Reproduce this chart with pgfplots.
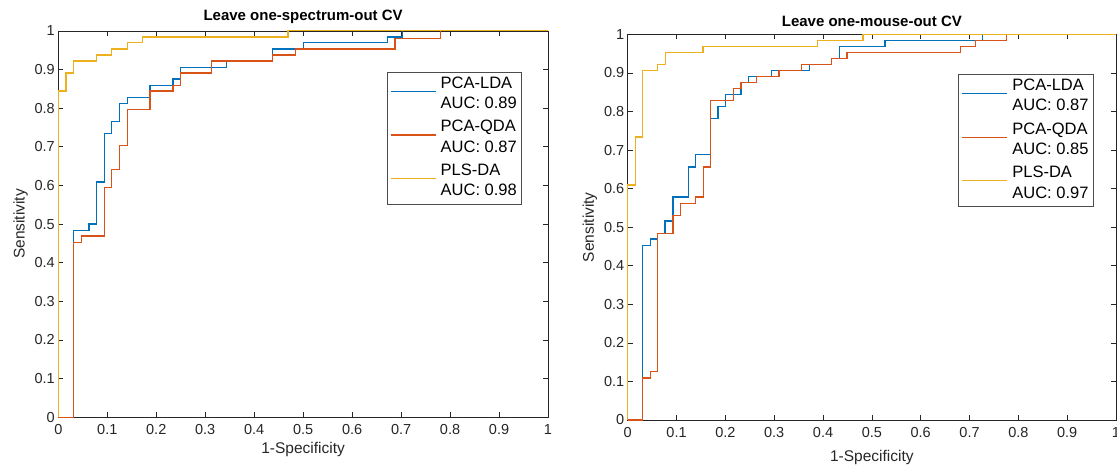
\documentclass[border=0pt]{standalone}
\usepackage{pgfplots}
\pgfplotsset{compat=1.18}
\usepackage{fontspec}
\setmainfont{Liberation Sans}

% MATLAB default line colours
\definecolor{mblue}{rgb}{0,0.447,0.741}
\definecolor{morange}{rgb}{0.85,0.325,0.098}
\definecolor{myellow}{rgb}{0.929,0.694,0.125}
\definecolor{axgray}{gray}{0.15}

% two-line legend text: method name over its AUC
\newcommand{\entry}[2]{\begin{tabular}{@{}l@{}}#1\\#2\end{tabular}}

\pgfplotsset{
  rocaxis/.style={
    scale only axis,
    xmin=0, xmax=1, ymin=0, ymax=1,
    clip=false,
    xtick={0,0.1,0.2,0.3,0.4,0.5,0.6,0.7,0.8,0.9,1},
    xticklabels={0,0.1,0.2,0.3,0.4,0.5,0.6,0.7,0.8,0.9,1},
    ytick={0,0.1,0.2,0.3,0.4,0.5,0.6,0.7,0.8,0.9,1},
    yticklabels={0,0.1,0.2,0.3,0.4,0.5,0.6,0.7,0.8,0.9,1},
    tick align=inside,
    major tick length=5pt,
    axis line style={draw=axgray, line width=0.6pt},
    every tick/.style={draw=axgray, line width=0.6pt},
    tick label style={font=\fontsize{14.5}{17}\selectfont, text=axgray},
    xticklabel style={yshift=-4pt},
    label style={font=\fontsize{15.5}{18}\selectfont, text=axgray},
    title style={font=\fontsize{15}{18}\selectfont\bfseries, yshift=-2pt},
    xlabel={1-Specificity},
    ylabel={Sensitivity},
    legend cell align=left,
    legend style={
      anchor=north west,
      draw=black!70, line width=0.6pt,
      font=\fontsize{16.5}{20.3}\selectfont,
      nodes={text depth=, inner sep=1.5pt},
      inner xsep=3pt, inner ysep=0.5pt,
      row sep=0pt,
    },
    legend image code/.code={%
      \draw[#1, line width=1.25pt] (0pt,0.3em) -- (45pt,0.3em);
      \path (48pt,0.3em);},
    every axis plot/.append style={line width=1.25pt, line join=miter},
  }
}

\begin{document}
\begin{tikzpicture}[x=1pt,y=1pt]
\useasboundingbox (0,0) rectangle (1117,467);

% ---------------- Leave one-spectrum-out ----------------
\begin{axis}[rocaxis,
  at={(58.3pt,49.7pt)}, anchor=south west,
  width=489.7pt, height=386.5pt,
  title={Leave one-spectrum-out CV},
  legend style={at={(0.6706,0.894)}},
]
\addplot[mblue] coordinates {
 (0,0) (0.031,0) (0.031,0.484) (0.0625,0.484) (0.0625,0.5) (0.078,0.5)
 (0.078,0.609) (0.094,0.609) (0.094,0.734) (0.109,0.734) (0.109,0.766)
 (0.125,0.766) (0.125,0.8125) (0.141,0.8125) (0.141,0.828) (0.1875,0.828)
 (0.1875,0.859) (0.234,0.859) (0.234,0.875) (0.25,0.875) (0.25,0.906)
 (0.344,0.906) (0.344,0.922) (0.4375,0.922) (0.4375,0.953) (0.5,0.953)
 (0.5,0.969) (0.672,0.969) (0.672,0.984) (0.703,0.984) (0.703,1) (1,1)};
\addlegendentry{\entry{PCA-LDA}{AUC: 0.89}}
\addplot[morange] coordinates {
 (0,0) (0.031,0) (0.031,0.453) (0.047,0.453) (0.047,0.469) (0.094,0.469)
 (0.094,0.594) (0.109,0.594) (0.109,0.641) (0.125,0.641) (0.125,0.703)
 (0.141,0.703) (0.141,0.797) (0.1875,0.797) (0.1875,0.844) (0.234,0.844)
 (0.234,0.859) (0.25,0.859) (0.25,0.891) (0.3125,0.891) (0.3125,0.922)
 (0.4375,0.922) (0.4375,0.9375) (0.484,0.9375) (0.484,0.953) (0.6875,0.953)
 (0.6875,0.98) (0.781,0.98) (0.781,1) (1,1)};
\addlegendentry{\entry{PCA-QDA}{AUC: 0.87}}
\addplot[myellow] coordinates {
 (0,0) (0,0.844) (0.0156,0.844) (0.0156,0.891) (0.031,0.891) (0.031,0.922)
 (0.078,0.922) (0.078,0.9375) (0.109,0.9375) (0.109,0.953) (0.141,0.953)
 (0.141,0.969) (0.172,0.969) (0.172,0.984) (0.469,0.984) (0.469,1) (1,1)};
\addlegendentry{\entry{PLS-DA}{AUC: 0.98}}
\end{axis}

% ---------------- Leave one-mouse-out ----------------
\begin{axis}[rocaxis,
  at={(627.7pt,47pt)}, anchor=south west,
  width=488.3pt, height=385.7pt,
  title={Leave one-mouse-out CV},
  xlabel style={yshift=-6pt},
  legend style={at={(0.677,0.897)}},
]
\addplot[mblue] coordinates {
 (0,0) (0.0304,0) (0.0304,0.453) (0.046,0.453) (0.046,0.469) (0.0616,0.469)
 (0.0616,0.484) (0.0765,0.484) (0.0765,0.516) (0.0927,0.516) (0.0927,0.578)
 (0.124,0.578) (0.124,0.656) (0.139,0.656) (0.139,0.6875) (0.17,0.6875)
 (0.17,0.781) (0.185,0.781) (0.185,0.8125) (0.201,0.8125) (0.201,0.844)
 (0.232,0.844) (0.232,0.875) (0.247,0.875) (0.247,0.891) (0.295,0.891)
 (0.295,0.906) (0.372,0.906) (0.372,0.922) (0.418,0.922) (0.418,0.9375)
 (0.433,0.9375) (0.433,0.969) (0.527,0.969) (0.527,0.984) (0.727,0.984)
 (0.727,1) (1,1)};
\addlegendentry{\entry{PCA-LDA}{AUC: 0.87}}
\addplot[morange] coordinates {
 (0,0) (0.0304,0) (0.0304,0.109) (0.046,0.109) (0.046,0.125) (0.0616,0.125)
 (0.0616,0.484) (0.0927,0.484) (0.0927,0.531) (0.108,0.531) (0.108,0.562)
 (0.139,0.562) (0.139,0.578) (0.155,0.578) (0.155,0.656) (0.17,0.656)
 (0.17,0.828) (0.216,0.828) (0.216,0.859) (0.232,0.859) (0.232,0.875)
 (0.263,0.875) (0.263,0.891) (0.31,0.891) (0.31,0.906) (0.356,0.906)
 (0.356,0.922) (0.418,0.922) (0.418,0.9375) (0.449,0.9375) (0.449,0.953)
 (0.682,0.953) (0.682,0.969) (0.712,0.969) (0.712,0.984) (0.775,0.984)
 (0.775,1) (1,1)};
\addlegendentry{\entry{PCA-QDA}{AUC: 0.85}}
\addplot[myellow] coordinates {
 (0,0) (0,0.609) (0.0156,0.609) (0.0156,0.734) (0.0304,0.734) (0.0304,0.906)
 (0.0616,0.906) (0.0616,0.922) (0.077,0.922) (0.077,0.953) (0.154,0.953)
 (0.154,0.969) (0.388,0.969) (0.388,0.984) (0.482,0.984) (0.482,1) (1,1)};
\addlegendentry{\entry{PLS-DA}{AUC: 0.97}}
\end{axis}
\end{tikzpicture}
\end{document}
